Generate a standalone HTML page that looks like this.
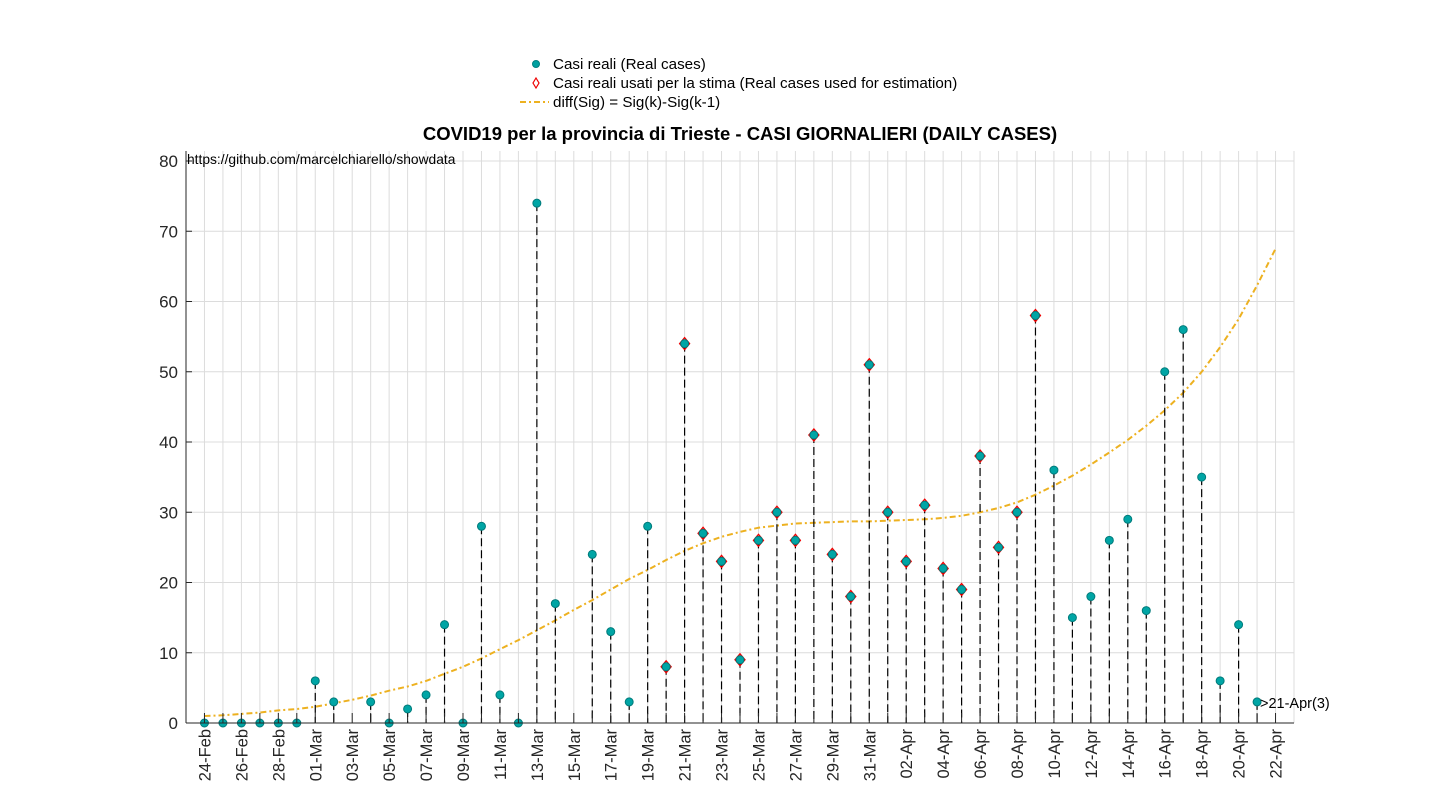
<!DOCTYPE html>
<html><head><meta charset="utf-8"><style>
body{margin:0;background:#fff;}
svg text{font-family:"Liberation Sans",Arial,sans-serif;}
</style></head><body>
<svg id="chart" width="1430" height="800" xmlns="http://www.w3.org/2000/svg">
<rect width="1430" height="800" fill="#fff"/>
<g id="grid"></g>
<g id="curve"></g>
<g id="stems"></g>
<g id="marks"></g>
<g id="axes"></g>
<text x="740" y="140" text-anchor="middle" font-size="18.5" font-weight="bold">COVID19 per la provincia di Trieste - CASI GIORNALIERI (DAILY CASES)</text>
<text x="187" y="164" font-size="13.8">https://github.com/marcelchiarello/showdata</text>
<g font-size="15.2">
 <g><circle cx="536" cy="64" r="3.5" fill="#00a0a0" stroke="#008080"/><text x="553" y="69">Casi reali (Real cases)</text></g>
 <g><path d="M536 78 L539 83 L536 88 L533 83 Z" fill="none" stroke="#e00" stroke-width="1.2"/><text x="553" y="88">Casi reali usati per la stima (Real cases used for estimation)</text></g>
 <g><line x1="520" y1="102" x2="549" y2="102" stroke="#edb120" stroke-width="2" stroke-dasharray="6,3,2,3"/><text x="553" y="107">diff(Sig) = Sig(k)-Sig(k-1)</text></g>
</g>
<text x="1260" y="708" font-size="14.5">&gt;21-Apr(3)</text>
</svg>
<script>
const dayLabels=["24-Feb","26-Feb","28-Feb","01-Mar","03-Mar","05-Mar","07-Mar","09-Mar","11-Mar","13-Mar","15-Mar","17-Mar","19-Mar","21-Mar","23-Mar","25-Mar","27-Mar","29-Mar","31-Mar","02-Apr","04-Apr","06-Apr","08-Apr","10-Apr","12-Apr","14-Apr","16-Apr","18-Apr","20-Apr","22-Apr"];
const yTicks=[0,10,20,30,40,50,60,70,80];
// day index 0 = 24-Feb
const cases=[0,0,0,0,0,0,6,3,null,3,0,2,4,14,0,28,4,0,74,17,null,24,13,3,28,8,54,27,23,9,26,30,26,41,24,18,51,30,23,31,22,19,38,25,30,58,36,15,18,26,29,16,50,56,35,6,14,3];
const usedForEstimate=[0,0,0,0,0,0,0,0,0,0,0,0,0,0,0,0,0,0,0,0,0,0,0,0,0,1,1,1,1,1,1,1,1,1,1,1,1,1,1,1,1,1,1,1,1,1,0,0,0,0,0,0,0,0,0,0,0,0];
const curve=[1.0,1.1,1.3,1.5,1.8,2.0,2.3,2.8,3.3,3.9,4.6,5.2,6.0,7.0,8.0,9.2,10.5,11.8,13.2,14.6,16.1,17.5,19.0,20.5,21.8,23.2,24.5,25.6,26.5,27.2,27.8,28.1,28.4,28.5,28.6,28.7,28.7,28.8,28.9,29.0,29.2,29.5,30.0,30.6,31.4,32.5,33.8,35.2,36.8,38.5,40.3,42.3,44.5,47.0,50.0,53.5,57.5,62.3,67.5];
const X0=186,X1=1294,Y0=723,Y80=161,TOP=151;
const pxDay=(X1-X0)/60;
const x=d=>X0+(d+1)*pxDay;
const y=v=>Y0-v*(Y0-Y80)/80;
const NS="http://www.w3.org/2000/svg";
function mk(p,t,a){const e=document.createElementNS(NS,t);for(const k in a)e.setAttribute(k,a[k]);document.getElementById(p).appendChild(e);return e;}
for(let d=-1;d<=59;d++){const g=mk('grid','line',{x1:x(d),x2:x(d),y1:TOP,y2:Y0,stroke:'#dcdcdc','stroke-width':1});

}
yTicks.forEach(v=>{const g=mk('grid','line',{x1:X0,x2:X1,y1:y(v),y2:y(v),stroke:'#dcdcdc','stroke-width':1});


const t=mk('axes','text',{x:X0-8,y:y(v)+6,'text-anchor':'end','font-size':17,fill:'#262626'});t.textContent=v;


mk('axes','line',{x1:X0,x2:X0+6,y1:y(v),y2:y(v),stroke:'#262626'});});
mk('axes','line',{x1:X0,x2:X0,y1:TOP,y2:Y0,stroke:'#262626','stroke-width':1});
mk('axes','line',{x1:X0,x2:X1,y1:Y0,y2:Y0,stroke:'#262626','stroke-width':1});
for(let d=0;d<=58;d++){mk('axes','line',{x1:x(d),x2:x(d),y1:Y0,y2:Y0-10,stroke:'#262626'});}
dayLabels.forEach((l,i)=>{const d=i*2;const t=mk('axes','text',{transform:`translate(${x(d)+6},${Y0+6}) rotate(-90)`,'text-anchor':'end','font-size':16.5,fill:'#262626'});t.textContent=l;

});
let dstr=curve.map((v,i)=>(i?'L':'M')+x(i).toFixed(1)+' '+y(v).toFixed(1)).join(' ');
const c=mk('curve','path',{d:dstr,fill:'none',stroke:'#edb120','stroke-width':2,'stroke-dasharray':'6,3,2,3'});


cases.forEach((v,i)=>{if(v===null)return;
if(v>0){const s=mk('stems','line',{x1:x(i),x2:x(i),y1:y(v),y2:Y0,stroke:'#000','stroke-width':1.2,'stroke-dasharray':'8,4'});

}
if(usedForEstimate[i]){const p=mk('marks','path',{d:`M${x(i)} ${y(v)-6} L${x(i)+5} ${y(v)} L${x(i)} ${y(v)+6} L${x(i)-5} ${y(v)} Z`,fill:'none',stroke:'#e00','stroke-width':1.3});

}
const m=mk('marks','circle',{cx:x(i),cy:y(v),r:4,fill:'#00a5a5',stroke:'#007a7a','stroke-width':1});

});
</script>
</body></html>
